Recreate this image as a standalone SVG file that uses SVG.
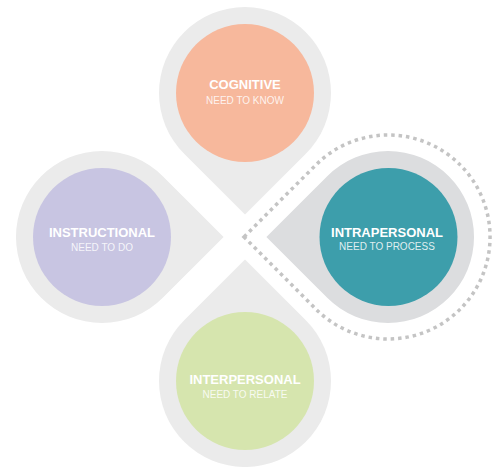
<svg xmlns="http://www.w3.org/2000/svg" width="502" height="467" viewBox="0 0 502 467">
  <defs>
    <style>
      .drop { fill: #ebebeb; }
      .drop-hi { fill: #dcdddf; }
      .title { font-family: "Liberation Sans", Arial, sans-serif; font-weight: bold; font-size: 13px; fill: #ffffff; text-anchor: middle; }
      .sub { font-family: "Liberation Sans", Arial, sans-serif; font-size: 10px; fill: #ffffff; fill-opacity: 0.85; text-anchor: middle; }
      .ring { fill: none; stroke: #c4c4c4; stroke-width: 3.5; stroke-dasharray: 3.5 3.9; }
    </style>
    <path id="tear" d="M0,121.6 L-60.8,60.8 A86,86 0 1 1 60.8,60.8 Z"/>
  </defs>
  <rect width="502" height="467" fill="#ffffff"/>

  <g id="cognitive">
    <use href="#tear" class="drop" transform="translate(245,93)"/>
    <circle cx="245" cy="93" r="69" fill="#f7b89c"/>
    <text class="title" x="245" y="89">COGNITIVE</text>
    <text class="sub" x="245" y="104">NEED TO KNOW</text>
  </g>

  <g id="instructional">
    <use href="#tear" class="drop" transform="translate(102,237) rotate(-90)"/>
    <circle cx="102" cy="237" r="69" fill="#c8c5e2"/>
    <text class="title" x="102" y="237">INSTRUCTIONAL</text>
    <text class="sub" x="102" y="251">NEED TO DO</text>
  </g>

  <g id="intrapersonal">
    <path class="ring" d="M244,237 L315.9,164.9 A102,102 0 1 1 315.9,309.1 Z"/>
    <use href="#tear" class="drop-hi" transform="translate(388,237) rotate(90)"/>
    <circle cx="388.5" cy="237" r="69" fill="#3d9eab"/>
    <text class="title" x="387" y="237">INTRAPERSONAL</text>
    <text class="sub" x="387" y="250">NEED TO PROCESS</text>
  </g>

  <g id="interpersonal">
    <use href="#tear" class="drop" transform="translate(245,381) rotate(180)"/>
    <circle cx="245" cy="381" r="69" fill="#d6e5ae"/>
    <text class="title" x="245" y="384">INTERPERSONAL</text>
    <text class="sub" x="245" y="398">NEED TO RELATE</text>
  </g>

  <g id="connectors"></g>
</svg>
